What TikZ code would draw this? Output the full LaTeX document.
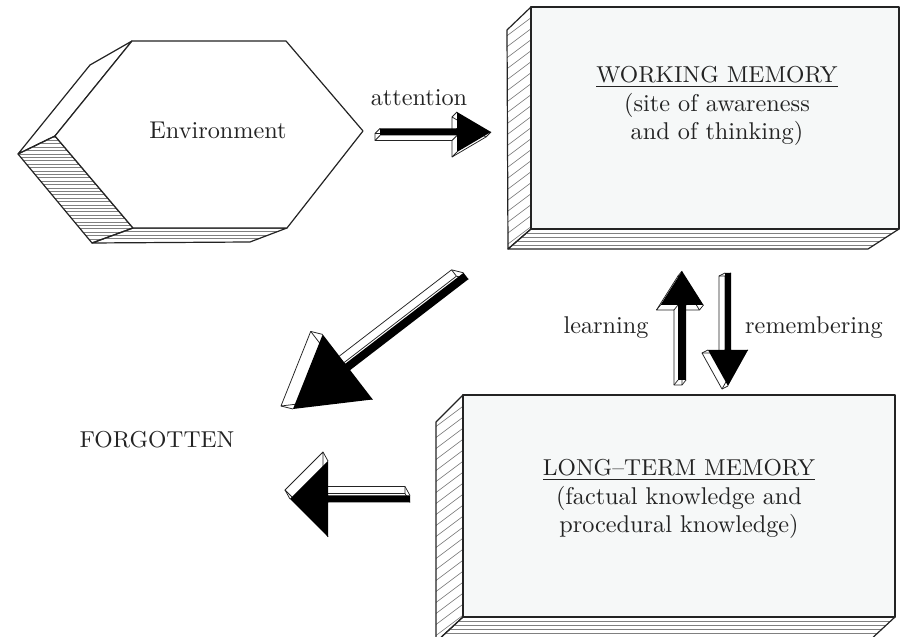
\documentclass[tikz,border=0pt]{standalone}
\usepackage{fontspec}
\usetikzlibrary{calc}

\definecolor{boxfill}{RGB}{246,248,248}
\definecolor{ink}{RGB}{35,35,35}

\newcommand{\capsize}{\fontsize{9.2}{11.4}\selectfont}

\tikzset{
  face/.style={draw=ink, line width=0.48pt, line join=round},
  hatch/.style={draw=black!50, line width=0.26pt},
  label/.style={text=ink, font=\fontsize{9.7}{11.4}\selectfont, align=center, inner sep=0pt},
}

% block arrow with a white slab behind it: tail, tip, shaft half width, head half width, head length (all in px), slab offset
\newcommand{\slabarrow}[6]{%
  \coordinate (h) at ($(#2)!#5*0.4pt!(#1)$);
  \coordinate (a1) at ($(#1)!#3*0.4pt!90:(#2)$);
  \coordinate (a2) at ($(h)!#3*0.4pt!90:(#2)$);
  \coordinate (a3) at ($(h)!#4*0.4pt!90:(#2)$);
  \coordinate (a4) at (#2);
  \coordinate (a5) at ($(h)!#4*0.4pt!-90:(#2)$);
  \coordinate (a6) at ($(h)!#3*0.4pt!-90:(#2)$);
  \coordinate (a7) at ($(#1)!#3*0.4pt!-90:(#2)$);
  \foreach \q in {1,...,7} \coordinate (b\q) at ($(a\q)+#6$);
  \filldraw[fill=white, draw=ink, line width=0.3pt, line join=round] (b1)--(b2)--(b3)--(b4)--(b5)--(b6)--(b7)--cycle;
  \foreach \q in {1,...,7} \draw[ink, line width=0.3pt] (a\q) -- (b\q);
  \fill[black] (a1)--(a2)--(a3)--(a4)--(a5)--(a6)--(a7)--cycle;
}

\begin{document}
\begin{tikzpicture}[x=0.4pt, y=-0.4pt]
\useasboundingbox (0,0) rectangle (901,637);
\clip (0,0) rectangle (901,637);

% Environment slab
\coordinate (e1) at (132,41);  \coordinate (e2) at (286,41);
\coordinate (e3) at (363,131); \coordinate (e4) at (287,228);
\coordinate (e5) at (133,228); \coordinate (e6) at (55,136);
\coordinate (f1) at (90,65);   \coordinate (f6) at (18,154);
\coordinate (f5) at (92,243);  \coordinate (f4) at (250,242);
\filldraw[face, fill=white] (e1)--(f1)--(f6)--(e6)--cycle;
\begin{scope}
  \clip (e6)--(f6)--(f5)--(e5)--cycle;
  \foreach \k in {137,140.4,...,246} \draw[hatch] (0,\k) -- (150,\k);
\end{scope}
\draw[face] (e6)--(f6)--(f5)--(e5)--cycle;
\begin{scope}
  \clip (e5)--(f5)--(f4)--(e4)--cycle;
  \foreach \k in {231.5,235,238.5} \draw[hatch] (80,\k) -- (300,\k);
\end{scope}
\draw[face] (e5)--(f5)--(f4)--(e4)--cycle;
\filldraw[face, fill=white] (e1)--(e2)--(e3)--(e4)--(e5)--(e6)--cycle;
\node[label] (env) at (218,130) {Environment};

% Working memory slab
\coordinate (w1) at (531,7);   \coordinate (w2) at (899,7);
\coordinate (w3) at (899,229); \coordinate (w4) at (531,229);
\coordinate (v1) at (507,30);  \coordinate (v4) at (508,249);
\coordinate (v3) at (868,249);
\begin{scope}
  \clip (w1)--(v1)--(v4)--(w4)--cycle;
  \foreach \k in {30,41,...,290} \draw[hatch] (500,\k) -- ++(40,-30);
\end{scope}
\draw[face] (w1)--(v1)--(v4)--(w4)--cycle;
\begin{scope}
  \clip (w4)--(v4)--(v3)--(w3)--cycle;
  \foreach \k in {233,237,241,245} \draw[hatch] (500,\k) -- (901,\k);
\end{scope}
\draw[face] (w4)--(v4)--(v3)--(w3)--cycle;
\filldraw[face, fill=boxfill] (w1) rectangle (w3);
\node[label] (wm) at (717,106) {\underline{\capsize WORKING MEMORY}\\(site of awareness\\and of thinking)};

% Long-term memory slab
\coordinate (l1) at (463,395); \coordinate (l2) at (895,395);
\coordinate (l3) at (895,617); \coordinate (l4) at (463,617);
\coordinate (m1) at (436,422); \coordinate (m4) at (436,642);
\coordinate (m3) at (868,642);
\begin{scope}
  \clip (l1)--(m1)--(m4)--(l4)--cycle;
  \foreach \k in {420,431,...,680} \draw[hatch] (430,\k) -- ++(40,-30);
\end{scope}
\draw[face] (l1)--(m1)--(m4)--(l4)--cycle;
\begin{scope}
  \clip (l4)--(m4)--(m3)--(l3)--cycle;
  \foreach \k in {621,625,629,633} \draw[hatch] (430,\k) -- (901,\k);
\end{scope}
\draw[face] (l4)--(m4)--(m3)--(l3)--cycle;
\filldraw[face, fill=boxfill] (l1) rectangle (l3);
\node[label] (ltm) at (679,499) {\underline{\capsize LONG--TERM MEMORY}\\(factual knowledge and\\procedural knowledge)};

\node[label, font=\capsize] (forgot) at (157,440) {FORGOTTEN};

% Arrows
\coordinate (att1) at (380,132); \coordinate (att2) at (491,132);
\slabarrow{att1}{att2}{3.5}{20}{34}{(-5,5)}
\node[label] (attn) at (419,98) {attention};

\coordinate (fg1) at (466,276); \coordinate (fg2) at (293,409);
\slabarrow{fg1}{fg2}{4}{41}{69}{(-12,-3)}

\coordinate (lf1) at (410,499); \coordinate (lf2) at (290,499);
\slabarrow{lf1}{lf2}{3.5}{38}{38}{(-5,-9)}

\coordinate (ln1) at (682,380); \coordinate (ln2) at (682,271);
\slabarrow{ln1}{ln2}{4}{21.5}{34}{(-4,5)}
\node[label] (learn) at (606,328) {learning};

\coordinate (rm1) at (728,273); \coordinate (rm2) at (728,386);
\slabarrow{rm1}{rm2}{3}{20}{36}{(-6,3)}
\node[label] (remem) at (814,328) {remembering};
\end{tikzpicture}
\end{document}
